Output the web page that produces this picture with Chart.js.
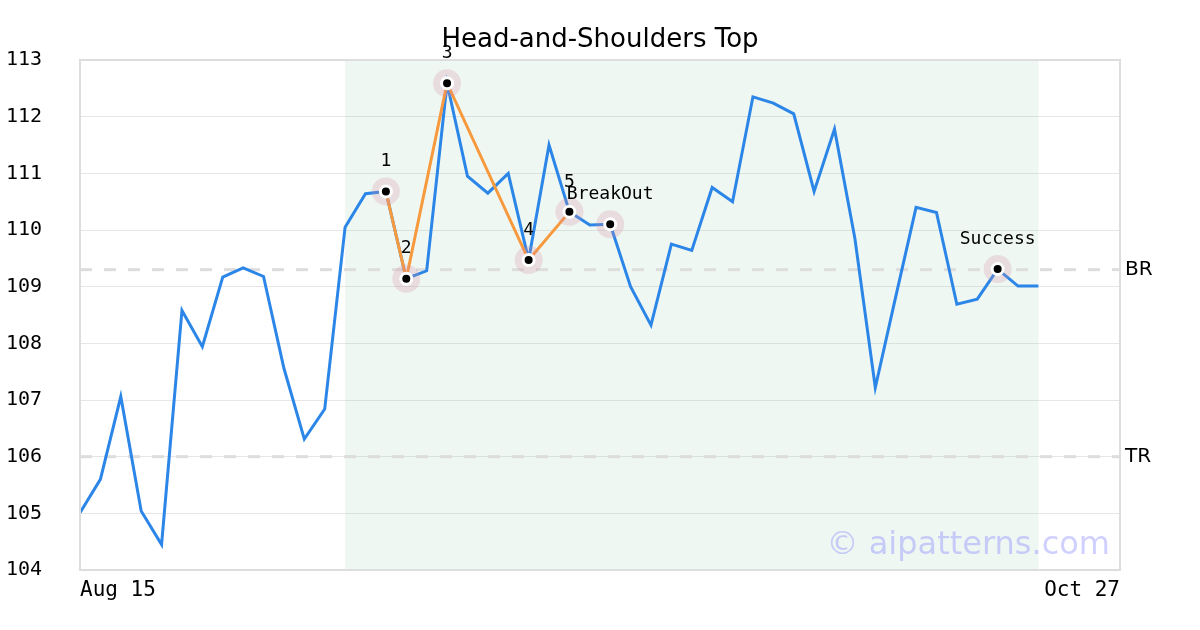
<!DOCTYPE html>
<html>
<head>
<meta charset="utf-8">
<script src="https://cdn.jsdelivr.net/npm/chart.js@4/dist/chart.umd.min.js"></script>
<style>
  html, body { margin: 0; padding: 0; background: #fff; }
  #wrap { width: 1200px; height: 630px; }
</style>
</head>
<body>
<div id="wrap"><canvas id="hsChart" width="1200" height="630"></canvas></div>
<script>
// trading days shown on the x axis (only first and last are labelled)
const dates = [
  'Aug 15', 'Aug 16', 'Aug 17', 'Aug 18', 'Aug 19', 'Aug 22', 'Aug 23', 'Aug 24', 'Aug 25', 'Aug 26',
  'Aug 29', 'Aug 30', 'Aug 31', 'Sep 1', 'Sep 2', 'Sep 6', 'Sep 7', 'Sep 8', 'Sep 9', 'Sep 12',
  'Sep 13', 'Sep 14', 'Sep 15', 'Sep 16', 'Sep 19', 'Sep 20', 'Sep 21', 'Sep 22', 'Sep 26', 'Sep 27',
  'Sep 28', 'Sep 29', 'Sep 30', 'Oct 3', 'Oct 4', 'Oct 5', 'Oct 6', 'Oct 7', 'Oct 10', 'Oct 11',
  'Oct 12', 'Oct 13', 'Oct 14', 'Oct 17', 'Oct 18', 'Oct 19', 'Oct 20', 'Oct 21', 'Oct 24', 'Oct 25',
  'Oct 26', 'Oct 27'
];

const prices = [
  105.01, 105.60, 107.06, 105.04, 104.45, 108.58, 107.94, 109.17, 109.33, 109.18,
  107.56, 106.31, 106.84, 110.05, 110.64, 110.68, 109.14, 109.28, 112.59, 110.95,
  110.65, 111.00, 109.47, 111.50, 110.32, 110.09, 110.10, 109.00, 108.32, 109.75,
  109.64, 110.75, 110.50, 112.35, 112.24, 112.05, 110.68, 111.78, 109.85, 107.22,
  108.82, 110.40, 110.31, 108.69, 108.78, 109.31, 109.01, 109.01
];

// pattern pivots 1..5
const patternIdx = [15, 16, 18, 22, 24];
// marked points and their captions
const markerIdx = [15, 16, 18, 22, 24, 26, 45];
const markerText = ['1', '2', '3', '4', '5', 'BreakOut', 'Success'];

const levelNames = ['BR', 'TR'];
const levelValues = [109.3, 106.0];

const zoneStart = 13;
const zoneEnd = 47;

const MONO = "'DejaVu Sans Mono', monospace";
const SANS = "'DejaVu Sans', sans-serif";

function sparse(idxList) {
  const arr = dates.map(() => null);
  idxList.forEach(i => { arr[i] = prices[i]; });
  return arr;
}

const decorations = {
  id: 'decorations',
  beforeDatasetsDraw(chart) {
    const { ctx, chartArea: a, scales: { x, y } } = chart;
    ctx.save();
    // pattern zone (translucent so the grid shows through)
    const x0 = x.getPixelForValue(zoneStart);
    const x1 = x.getPixelForValue(zoneEnd);
    ctx.fillStyle = 'rgba(120, 190, 160, 0.12)';
    ctx.fillRect(x0, a.top, x1 - x0, a.bottom - a.top);
    // levels
    ctx.setLineDash([12, 12]);
    ctx.strokeStyle = '#dddddd';
    ctx.lineWidth = 3;
    levelValues.forEach(v => {
      const py = y.getPixelForValue(v);
      ctx.beginPath();
      ctx.moveTo(a.left, py);
      ctx.lineTo(a.right, py);
      ctx.stroke();
    });
    ctx.setLineDash([]);
    ctx.fillStyle = '#000';
    ctx.font = '20px ' + SANS;
    ctx.textAlign = 'left';
    ctx.textBaseline = 'middle';
    levelNames.forEach((n, i) => {
      ctx.fillText(n, a.right + 5, y.getPixelForValue(levelValues[i]));
    });
    ctx.restore();
  },
  afterDatasetsDraw(chart) {
    const { ctx, chartArea: a, scales: { x, y } } = chart;
    ctx.save();
    ctx.fillStyle = '#000';
    ctx.font = '18px ' + MONO;
    ctx.textAlign = 'center';
    ctx.textBaseline = 'middle';
    markerIdx.forEach((idx, i) => {
      ctx.fillText(markerText[i], x.getPixelForValue(idx), y.getPixelForValue(prices[idx]) - 30);
    });
    // plot frame
    ctx.strokeStyle = '#dddddd';
    ctx.lineWidth = 2;
    ctx.strokeRect(a.left, a.top, a.right - a.left, a.bottom - a.top);
    // watermark
    ctx.fillStyle = 'rgba(110, 110, 255, 0.32)';
    ctx.font = '32px ' + SANS;
    ctx.textAlign = 'right';
    ctx.textBaseline = 'alphabetic';
    ctx.fillText('\u00a9 aipatterns.com', a.right - 10, a.bottom - 16);
    // title, centred on the full canvas
    ctx.fillStyle = '#000';
    ctx.font = '26px ' + SANS;
    ctx.textAlign = 'center';
    ctx.textBaseline = 'middle';
    ctx.fillText('Head-and-Shoulders Top', chart.width / 2, 40);
    ctx.restore();
  }
};

new Chart(document.getElementById('hsChart'), {
  type: 'line',
  data: {
    labels: dates,
    datasets: [
      {
        label: 'markers',
        data: sparse(markerIdx),
        showLine: false,
        pointRadius: 5.5,
        pointBackgroundColor: '#000',
        pointBorderColor: '#fff',
        pointBorderWidth: 3,
        order: 0
      },
      {
        label: 'halo',
        data: sparse(markerIdx),
        showLine: false,
        pointRadius: 14,
        pointBackgroundColor: 'rgba(210, 140, 165, 0.25)',
        pointBorderWidth: 0,
        order: 1
      },
      {
        label: 'pattern',
        data: sparse(patternIdx),
        borderColor: '#f7993d',
        borderWidth: 3,
        pointRadius: 0,
        spanGaps: true,
        tension: 0,
        order: 2
      },
      {
        label: 'price',
        data: prices,
        borderColor: '#2b86e8',
        borderWidth: 3,
        pointRadius: 0,
        tension: 0,
        order: 3
      }
    ]
  },
  options: {
    responsive: false,
    animation: false,
    layout: { padding: { left: 6, right: 80, top: 60, bottom: 0 } },
    plugins: {
      legend: { display: false },
      tooltip: { enabled: false },
      title: { display: false }
    },
    scales: {
      x: {
        type: 'category',
        offset: false,
        grid: { display: false, drawTicks: false },
        border: { display: false },
        afterFit: s => { s.height = 60; },
        ticks: {
          autoSkip: false,
          maxRotation: 0,
          align: 'inner',
          padding: 8,
          color: '#000',
          font: { family: MONO, size: 21 },
          callback: (v, i) => (i === 0 || i === dates.length - 1) ? dates[i] : ''
        }
      },
      y: {
        min: 104,
        max: 113,
        grid: { color: '#e6e6e6', drawTicks: false },
        border: { display: false },
        afterFit: s => { s.width = 74; },
        ticks: {
          stepSize: 1,
          crossAlign: 'far',
          padding: 8,
          color: '#000',
          font: { family: MONO, size: 20 }
        }
      }
    }
  },
  plugins: [decorations]
});
</script>
</body>
</html>
